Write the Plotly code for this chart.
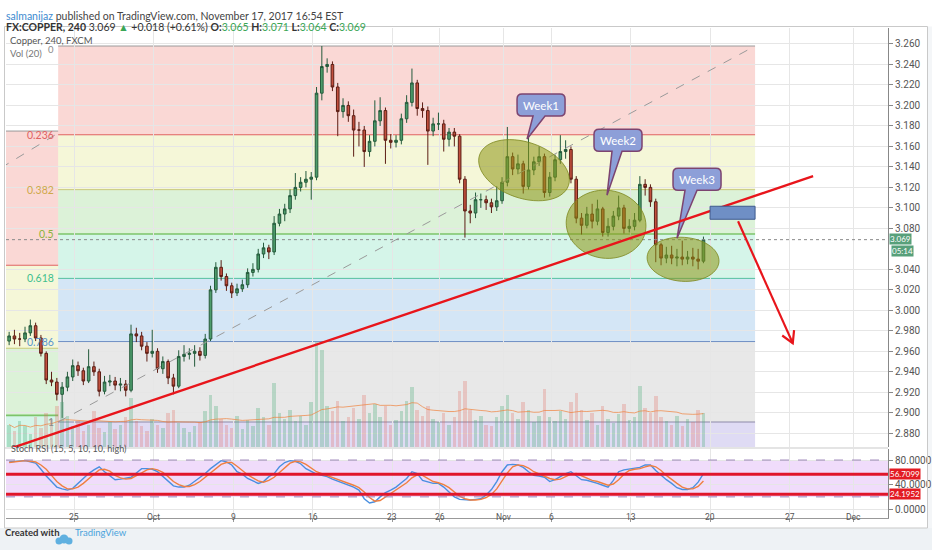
import numpy as np
import plotly.graph_objects as go

# FX:COPPER 4h candles, drawn 3 per trading day; day 0 = Mon Sep 25 2017, weekends skipped
close = [
    2.975, 2.972, 2.972, 2.978, 2.985, 2.973, 2.958, 2.932, 2.930, 2.918,
    2.925, 2.935, 2.946, 2.941, 2.931, 2.945, 2.940, 2.921, 2.930, 2.931,
    2.927, 2.928, 2.922, 2.977, 2.975, 2.965, 2.958, 2.960, 2.943, 2.950,
    2.934, 2.926, 2.955, 2.957, 2.958, 2.960, 2.956, 2.972, 3.020, 3.042,
    3.033, 3.024, 3.017, 3.021, 3.025, 3.037, 3.040, 3.055, 3.061, 3.057,
    3.085, 3.094, 3.099, 3.112, 3.120, 3.125, 3.128, 3.130, 3.212, 3.238,
    3.240, 3.218, 3.194, 3.200, 3.190, 3.176, 3.176, 3.155, 3.165, 3.185,
    3.195, 3.166, 3.164, 3.166, 3.187, 3.203, 3.222, 3.197, 3.195, 3.175,
    3.182, 3.182, 3.167, 3.174, 3.170, 3.128, 3.097, 3.095, 3.108, 3.108,
    3.105, 3.101, 3.107, 3.125, 3.150, 3.138, 3.143, 3.121, 3.137, 3.145,
    3.150, 3.115, 3.130, 3.147, 3.155, 3.157, 3.128, 3.090, 3.083, 3.094,
    3.087, 3.099, 3.076, 3.082, 3.092, 3.100, 3.080, 3.082, 3.088, 3.123,
    3.120, 3.106, 3.064, 3.051, 3.054, 3.051, 3.052, 3.050, 3.052, 3.050,
    3.048, 3.069]
high = [
    2.979, 2.981, 2.978, 2.984, 2.991, 2.988, 2.976, 2.960, 2.940, 2.934,
    2.930, 2.940, 2.952, 2.950, 2.944, 2.962, 2.950, 2.943, 2.936, 2.937,
    2.935, 2.934, 2.932, 2.986, 2.983, 2.979, 2.969, 2.981, 2.963, 2.955,
    2.952, 2.938, 2.961, 2.966, 2.963, 2.966, 2.964, 2.977, 3.024, 3.047,
    3.049, 3.036, 3.027, 3.026, 3.030, 3.041, 3.046, 3.060, 3.066, 3.064,
    3.092, 3.099, 3.104, 3.118, 3.134, 3.130, 3.136, 3.135, 3.218, 3.258,
    3.246, 3.243, 3.222, 3.207, 3.204, 3.196, 3.184, 3.180, 3.171, 3.205,
    3.208, 3.198, 3.172, 3.171, 3.192, 3.210, 3.236, 3.225, 3.203, 3.199,
    3.188, 3.193, 3.186, 3.178, 3.178, 3.172, 3.131, 3.103, 3.115, 3.114,
    3.112, 3.109, 3.121, 3.130, 3.179, 3.154, 3.152, 3.146, 3.172, 3.150,
    3.160, 3.153, 3.135, 3.152, 3.171, 3.166, 3.160, 3.131, 3.095, 3.101,
    3.104, 3.108, 3.101, 3.090, 3.097, 3.112, 3.103, 3.089, 3.095, 3.131,
    3.128, 3.123, 3.109, 3.066, 3.062, 3.063, 3.060, 3.068, 3.058, 3.061,
    3.060, 3.072]
low = [
    2.966, 2.967, 2.965, 2.969, 2.975, 2.970, 2.955, 2.928, 2.926, 2.912,
    2.895, 2.921, 2.931, 2.936, 2.927, 2.929, 2.936, 2.916, 2.918, 2.926,
    2.922, 2.921, 2.916, 2.920, 2.969, 2.961, 2.950, 2.954, 2.939, 2.938,
    2.928, 2.918, 2.924, 2.950, 2.952, 2.945, 2.951, 2.953, 2.970, 3.017,
    3.029, 3.019, 3.012, 3.014, 3.018, 3.022, 3.033, 3.037, 3.051, 3.050,
    3.054, 3.082, 3.087, 3.095, 3.108, 3.116, 3.120, 3.108, 3.127, 3.205,
    3.232, 3.214, 3.170, 3.188, 3.184, 3.150, 3.160, 3.140, 3.150, 3.160,
    3.180, 3.143, 3.158, 3.159, 3.162, 3.183, 3.199, 3.190, 3.188, 3.142,
    3.170, 3.176, 3.155, 3.160, 3.160, 3.124, 3.071, 3.085, 3.090, 3.100,
    3.098, 3.095, 3.097, 3.104, 3.121, 3.132, 3.133, 3.114, 3.118, 3.132,
    3.141, 3.110, 3.111, 3.126, 3.143, 3.148, 3.124, 3.085, 3.074, 3.080,
    3.080, 3.083, 3.072, 3.072, 3.078, 3.088, 3.075, 3.076, 3.078, 3.086,
    3.112, 3.101, 3.047, 3.044, 3.046, 3.045, 3.043, 3.044, 3.045, 3.043,
    3.040, 3.046]
first_open = 2.970

volume = [
    30, 22, 35, 28, 18, 40, 25, 45, 38, 55,
    60, 42, 28, 35, 22, 30, 48, 26, 20, 33,
    24, 30, 40, 65, 35, 28, 22, 38, 30, 26,
    45, 50, 32, 25, 20, 28, 34, 48, 70, 55,
    38, 30, 26, 42, 24, 36, 28, 52, 40, 30,
    85, 45, 38, 50, 35, 42, 30, 60, 140, 130,
    55, 48, 62, 35, 40, 52, 38, 70, 45, 58,
    40, 55, 30, 36, 48, 62, 80, 50, 42, 55,
    38, 34, 45, 30, 40, 75, 88, 50, 36, 42,
    30, 28, 40, 55, 70, 45, 38, 60, 50, 34,
    42, 78, 40, 35, 48, 38, 60, 72, 50, 36,
    45, 30, 55, 38, 32, 44, 58, 36, 40, 82,
    52, 46, 68, 40, 35, 30, 42, 28, 38, 34,
    50, 45]

stoch_k = [
    77, 78, 79, 79, 77, 75, 65, 54, 45, 36, 33, 31, 34, 42, 50, 58, 64, 69, 61, 55,
    48, 49, 50, 52, 59, 66, 66, 65, 61, 53, 45, 38, 36, 36, 39, 45, 52, 58, 66, 73,
    79, 77, 72, 61, 57, 50, 46, 42, 45, 53, 58, 69, 76, 79, 78, 74, 66, 61, 57, 55,
    53, 49, 46, 42, 39, 36, 31, 17, 10, 12, 20, 27, 31, 36, 43, 50, 61, 58, 47, 45,
    42, 42, 36, 28, 20, 16, 15, 15, 16, 17, 23, 32, 45, 61, 72, 73, 72, 68, 61, 55,
    54, 52, 45, 48, 53, 58, 61, 54, 48, 47, 45, 42, 39, 36, 47, 61, 64, 65, 66, 68,
    72, 72, 63, 55, 48, 42, 35, 32, 32, 35, 44, 58]
stoch_d = [
    76, 77, 78, 79, 78, 77, 72, 65, 55, 45, 38, 33, 33, 36, 42, 50, 57, 64, 65, 62,
    55, 51, 49, 50, 54, 59, 64, 66, 64, 60, 53, 45, 40, 37, 37, 40, 45, 52, 59, 66,
    73, 76, 76, 70, 63, 56, 51, 46, 44, 47, 52, 60, 68, 75, 78, 77, 73, 67, 61, 58,
    55, 52, 49, 46, 42, 39, 35, 28, 19, 13, 14, 20, 26, 31, 37, 43, 51, 56, 55, 50,
    45, 43, 40, 35, 28, 21, 17, 15, 15, 16, 19, 24, 33, 46, 59, 69, 72, 71, 67, 61,
    57, 54, 50, 48, 49, 53, 57, 58, 54, 50, 47, 45, 42, 39, 41, 48, 57, 63, 65, 66,
    69, 71, 69, 63, 55, 48, 42, 36, 33, 33, 37, 46]
stoch_levels = [56.7099, 24.1952]

tick_days = [0, 5, 10, 15, 20, 23, 27, 30, 35, 40, 45, 49]
tick_text = ['25', 'Oct', '9', '16', '23', '26', 'Nov', '6', '13', '20', '27', 'Dec']
# 3.060 sits under the last-price badge, so it is not labelled
price_ticks = [2.88, 2.90, 2.92, 2.94, 2.96, 2.98, 3.00, 3.02, 3.04, 3.08, 3.10,
               3.12, 3.14, 3.16, 3.18, 3.20, 3.22, 3.24, 3.26]

# fib retracement drawn from the Sep 22 low to the Oct 16 high
fib_ratios = [0, 0.236, 0.382, 0.5, 0.618, 0.786, 1, 1.618]
fib_high, fib_low = 3.258, 2.891
fib_days = [-1.0, 42.83]
# older fib, only its left edge is visible
old_fib_top, old_fib_span = 3.175, 0.555
old_fib_days = [-4.6, -1.0]

band_fill = ['rgba(236,92,80,0.24)', 'rgba(214,220,90,0.24)', 'rgba(110,200,90,0.24)',
             'rgba(80,212,165,0.24)', 'rgba(90,160,222,0.26)', 'rgba(150,150,150,0.22)',
             'rgba(120,105,210,0.24)']
level_col = ['#9a9a9a', '#e06262', '#c9c97a', '#7cc46a', '#55c0a0', '#6f8fc4', '#8d8aa8', '#8d8aa8']
label_col = ['#8a8a8a', '#e06262', '#cfa84a', '#8cb43c', '#3fbf8e', '#5b96cc', '#8a8a8a']

trend_line = [(-4.6, 2.862), (46.48, 3.131)]
target_box = [(40.0, 3.1016), (42.83, 3.0889)]
drop_arrow = [(41.76, 3.087), (45.2, 2.968)]
ellipses = [(28.3, 3.1368, 47, 28, 19), (33.46, 3.084, 40, 34, 8), (38.3, 3.0498, 36, 22, 4)]
bubbles = [('Week1', 29.37, 3.2004, -14, 34, -8, 4),
           ('Week2', 34.21, 3.1661, -11, 55, -6, 4),
           ('Week3', 39.18, 3.128, -20, 59, -12, 0)]
last_price = 3.069

W, H = 932, 550
PANE_L, PANE_R, PANE_T, PANE_B = 6, 888, 28, 447
ST_T, ST_B = 449, 518
FRAME_B = 528
X_RANGE = [-4.28, 51.19]
Y_RANGE = [2.8666, 3.2756]
ST_RANGE = [-14.4, 98]
DAY_PX = (PANE_R - PANE_L) / (X_RANGE[1] - X_RANGE[0])
PRICE_PX = (PANE_B - PANE_T) / (Y_RANGE[1] - Y_RANGE[0])


def px(x):
    return x / W


def py(y):
    return 1 - y / H


def off(d, p, dx, dy):
    return d + dx / DAY_PX, p - dy / PRICE_PX


def ellipse_path(cd, cp, a, b, tilt):
    th = np.radians(tilt)
    pts = []
    for t in np.linspace(0, 2 * np.pi, 61):
        dx = a * np.cos(t) * np.cos(th) - b * np.sin(t) * np.sin(th)
        dy = a * np.cos(t) * np.sin(th) + b * np.sin(t) * np.cos(th)
        pts.append(off(cd, cp, dx, dy))
    return 'M ' + ' L '.join('%.4f,%.5f' % q for q in pts) + ' Z'


def bubble_path(cd, cp, tip_dx, tip_dy, t0, t1, w=48, h=22, r=5):
    hw, hh = w / 2, h / 2
    cmds = [('M', [(-hw + r, -hh)]), ('L', [(hw - r, -hh)]), ('Q', [(hw, -hh), (hw, -hh + r)]),
            ('L', [(hw, hh - r)]), ('Q', [(hw, hh), (hw - r, hh)]), ('L', [(t1, hh)]),
            ('L', [(tip_dx, tip_dy)]), ('L', [(t0, hh)]), ('L', [(-hw + r, hh)]),
            ('Q', [(-hw, hh), (-hw, hh - r)]), ('L', [(-hw, -hh + r)]),
            ('Q', [(-hw, -hh), (-hw + r, -hh)])]
    s = ''
    for c, pts in cmds:
        s += c + ' ' + ' '.join('%.4f,%.5f' % off(cd, cp, dx, dy) for dx, dy in pts) + ' '
    return s + 'Z'


n = len(close)
cx = [X_RANGE[0] + 0.03 + (i + 0.5) / 3 for i in range(n)]
opens = [first_open] + close[:-1]
vol_col = ['rgba(70,170,115,0.30)' if c >= o else 'rgba(225,95,85,0.26)' for o, c in zip(opens, close)]
vol_ma = np.convolve(volume, np.ones(20) / 20, mode='full')[:n]
vol_ma[:19] = [np.mean(volume[:i + 1]) for i in range(19)]

fig = go.Figure()
fig.add_trace(go.Bar(x=cx, y=volume, marker_color=vol_col, marker_line_width=0, width=0.22,
                     xaxis='x', yaxis='y3', showlegend=False))
fig.add_trace(go.Scatter(x=cx, y=vol_ma, mode='lines', line=dict(color='rgba(240,130,60,0.7)', width=1),
                         xaxis='x', yaxis='y3', showlegend=False))
fig.add_trace(go.Candlestick(x=cx, open=opens, high=high, low=low, close=close,
                             increasing=dict(fillcolor='#4e9d6c', line=dict(color='#245a3b', width=1)),
                             decreasing=dict(fillcolor='#c2503e', line=dict(color='#5c1d14', width=1)),
                             whiskerwidth=0, xaxis='x', yaxis='y', showlegend=False))
fig.add_trace(go.Scatter(x=cx, y=stoch_k, mode='lines', line=dict(color='#4a8fe0', width=1.4),
                         xaxis='x2', yaxis='y2', showlegend=False))
fig.add_trace(go.Scatter(x=cx, y=stoch_d, mode='lines', line=dict(color='#ef7f40', width=1.4),
                         xaxis='x2', yaxis='y2', showlegend=False))

shapes = []
# main fib bands and levels
lv = [fib_high - r * (fib_high - fib_low) for r in fib_ratios]
for k in range(len(lv) - 1):
    shapes.append(dict(type='rect', xref='x', yref='y', x0=fib_days[0], x1=fib_days[1], y0=lv[k + 1], y1=lv[k],
                       fillcolor=band_fill[k], line_width=0, layer='below'))
for k in range(len(lv)):
    shapes.append(dict(type='line', xref='x', yref='y', x0=fib_days[0], x1=fib_days[1], y0=lv[k], y1=lv[k],
                       line=dict(color=level_col[k], width=1.6 if k == 3 else 1), layer='below'))
# older fib strip on the left
olv = [old_fib_top - r * old_fib_span for r in fib_ratios[:5]]
for k in range(len(olv) - 1):
    shapes.append(dict(type='rect', xref='x', yref='y', x0=old_fib_days[0], x1=old_fib_days[1], y0=olv[k + 1],
                       y1=olv[k], fillcolor=band_fill[k], line_width=0, layer='below'))
    shapes.append(dict(type='line', xref='x', yref='y', x0=old_fib_days[0], x1=old_fib_days[1], y0=olv[k], y1=olv[k],
                       line=dict(color=level_col[k], width=1.6 if k == 3 else 1), layer='below'))
shapes.append(dict(type='line', xref='x', yref='y', x0=old_fib_days[0], y0=3.139, x1=old_fib_days[1], y1=3.173,
                   line=dict(color='#9a9a9a', width=1, dash='dash')))
shapes.append(dict(type='line', xref='x', yref='y', x0=fib_days[0], y0=fib_low, x1=fib_days[1], y1=fib_high,
                   line=dict(color='#9a9a9a', width=1, dash='dash')))
shapes.append(dict(type='line', xref='x domain', yref='y', x0=0, x1=1, y0=last_price, y1=last_price,
                   line=dict(color='#8a8a8a', width=1, dash='dot')))

for cd, cp, a, b, tilt in ellipses:
    shapes.append(dict(type='path', xref='x', yref='y', path=ellipse_path(cd, cp, a, b, tilt),
                       fillcolor='rgba(140,150,20,0.55)', line=dict(color='rgba(125,135,30,0.8)', width=1)))
for txt, cd, cp, tdx, tdy, t0, t1 in bubbles:
    shapes.append(dict(type='path', xref='x', yref='y', path=bubble_path(cd, cp, tdx, tdy, t0, t1),
                       fillcolor='#8d9fd8', line=dict(color='#7c4470', width=1.5)))

shapes.append(dict(type='line', xref='x', yref='y', x0=trend_line[0][0], y0=trend_line[0][1],
                   x1=trend_line[1][0], y1=trend_line[1][1], line=dict(color='#e8151b', width=2.4)))
shapes.append(dict(type='rect', xref='x', yref='y', x0=target_box[0][0], y0=target_box[0][1],
                   x1=target_box[1][0], y1=target_box[1][1], fillcolor='#6f8fc5',
                   line=dict(color='#3f5a8e', width=1)))
(sd, sp), (ed, ep) = drop_arrow
shapes.append(dict(type='line', xref='x', yref='y', x0=sd, y0=sp, x1=ed, y1=ep,
                   line=dict(color='#e8151b', width=2.2)))
vx, vy = (ed - sd) * DAY_PX, -(ep - sp) * PRICE_PX
ln = np.hypot(vx, vy)
ux, uy = -vx / ln, -vy / ln
arms = []
for ang in (30, -30):
    a = np.radians(ang)
    arms.append(off(ed, ep, 13 * (ux * np.cos(a) - uy * np.sin(a)), 13 * (ux * np.sin(a) + uy * np.cos(a))))
shapes.append(dict(type='path', xref='x', yref='y',
                   path='M %.4f,%.5f L %.4f,%.5f L %.4f,%.5f' % (arms[0] + (ed, ep) + arms[1]),
                   line=dict(color='#e8151b', width=2.2)))

# stoch pane decorations
shapes.append(dict(type='rect', xref='x2 domain', yref='y2', x0=0, x1=1, y0=20, y1=80,
                   fillcolor='rgba(196,120,240,0.26)', line_width=0, layer='below'))
for v in (80, 20):
    shapes.append(dict(type='line', xref='x2 domain', yref='y2', x0=0, x1=1, y0=v, y1=v,
                       line=dict(color='#9c84b8', width=1, dash='dash')))
for v in stoch_levels:
    shapes.append(dict(type='line', xref='x2 domain', yref='y2', x0=0, x1=1, y0=v, y1=v,
                       line=dict(color='#e0162b', width=3)))

# frame, pane divider, footer
shapes.append(dict(type='rect', xref='paper', yref='paper', x0=0, x1=1, y0=0, y1=py(FRAME_B),
                   fillcolor='#eef2f5', line_width=0, layer='below'))
shapes.append(dict(type='rect', xref='paper', yref='paper', x0=px(928), x1=1, y0=py(FRAME_B), y1=py(26.5),
                   fillcolor='#f4f6f8', line_width=0, layer='below'))
shapes.append(dict(type='rect', xref='paper', yref='paper', x0=px(4.5), x1=px(927.5), y0=py(FRAME_B), y1=py(26.5),
                   line=dict(color='#c9c9c9', width=1)))
shapes.append(dict(type='line', xref='paper', yref='paper', x0=px(4.5), x1=px(PANE_R), y0=py(448), y1=py(448),
                   line=dict(color='#c9c9c9', width=1)))
# little cloud logo in the footer
for cxp, cyp, rr in ((59, 541, 3.5), (64, 539, 4.5), (69, 541, 3.5)):
    shapes.append(dict(type='circle', xref='paper', yref='paper', x0=px(cxp - rr), x1=px(cxp + rr),
                       y0=py(cyp + rr), y1=py(cyp - rr), fillcolor='#5fb0e0', line_width=0))

ann = []
for k, r in enumerate(fib_ratios[:7]):
    ann.append(dict(x=fib_days[0], y=lv[k], xref='x', yref='y', text=('%g' % r) if r else '0',
                    showarrow=False, xanchor='right', xshift=-3, yshift=-3 if r == 0 else 0, borderpad=0,
                    font=dict(size=9.5 if r == 0 else 10.5, color=label_col[k])))
for txt, cd, cp, tdx, tdy, t0, t1 in bubbles:
    ann.append(dict(x=cd, y=cp, xref='x', yref='y', text=txt, showarrow=False,
                    font=dict(size=11.5, color='white', family='Lato')))
for d, t in zip(tick_days, tick_text):
    ann.append(dict(x=d, y=py(523.5), xref='x2', yref='paper', text=t, showarrow=False,
                    font=dict(family='Roboto', size=8.5, color='#555')))
ann.append(dict(x=px(PANE_R), y=last_price, xref='paper', yref='y', text='3.069', showarrow=False,
                xanchor='left', xshift=1, yshift=1, bgcolor='#57a07a', borderpad=0, font=dict(size=8, color='white')))
ann.append(dict(x=px(PANE_R), y=last_price, xref='paper', yref='y', text='05:14', showarrow=False,
                xanchor='left', xshift=3, yshift=-11, bgcolor='#57a07a', borderpad=0,
                font=dict(size=8, color='white')))
for v in stoch_levels:
    ann.append(dict(x=px(PANE_R), y=v, xref='paper', yref='y2', text='%.4f' % v, showarrow=False,
                    xanchor='left', xshift=1, bgcolor='#e31b23', borderpad=0, font=dict(size=8, color='white')))
ann.append(dict(x=px(9), y=py(33.5), xref='paper', yref='paper', text='Copper, 240, FXCM', showarrow=False,
                xanchor='left', borderpad=0, font=dict(size=9.5, color='#555')))
ann.append(dict(x=px(9), y=py(46.5), xref='paper', yref='paper', text='Vol (20)', showarrow=False,
                xanchor='left', borderpad=0, font=dict(size=9.5, color='#777')))
ann.append(dict(x=px(9), y=py(456), xref='paper', yref='paper', text='Stoch RSI (15, 5, 10, 10, high)',
                showarrow=False, xanchor='left', font=dict(size=9, color='#555')))
ann.append(dict(x=px(4), y=py(8), xref='paper', yref='paper', showarrow=False, xanchor='left',
                text="<span style='color:#3d8ad0'>salmanijaz</span> published on TradingView.com, "
                     "November 17, 2017 16:54 EST", font=dict(size=10.5, color='#444')))
g = "<span style='color:#3aa655'>%s</span>"
ann.append(dict(x=px(4), y=py(19.5), xref='paper', yref='paper', showarrow=False, xanchor='left',
                text="<b>FX:COPPER, 240</b> 3.069 " + g % '▲' + " +0.018 (+0.61%) <b>O:</b>" + g % '3.065'
                     + " <b>H:</b>" + g % '3.071' + " <b>L:</b>" + g % '3.064' + " <b>C:</b>" + g % '3.069',
                font=dict(size=10.5, color='#333')))
ann.append(dict(x=px(3), y=py(540), xref='paper', yref='paper', showarrow=False, xanchor='left',
                text="<b>Created with</b>", font=dict(size=9.5, color='#333')))
ann.append(dict(x=px(73), y=py(540), xref='paper', yref='paper', showarrow=False, xanchor='left',
                text="TradingView", font=dict(size=9.5, color='#4aa3dc')))

axis_font = dict(family='Roboto', size=10, color='#555')
fig.update_layout(
    width=W, height=H, margin=dict(l=0, r=0, t=0, b=0, autoexpand=False),
    paper_bgcolor='white', plot_bgcolor='white', showlegend=False,
    font=dict(family='Lato'), bargap=0,
    xaxis=dict(domain=[px(PANE_L), px(PANE_R)], range=X_RANGE, anchor='y', rangeslider=dict(visible=False),
               tickvals=tick_days, showticklabels=False, ticks='', showgrid=True, gridcolor='#e6e6e6',
               zeroline=False, automargin=False),
    xaxis2=dict(domain=[px(PANE_L), px(PANE_R)], range=X_RANGE, anchor='y2', matches='x',
                tickvals=tick_days, showticklabels=False, ticks='outside', ticklen=3, tickcolor='#999',
                showgrid=True, gridcolor='#e6e6e6', zeroline=False, automargin=False,
                showline=True, linecolor='#999'),
    yaxis=dict(domain=[py(PANE_B), py(PANE_T)], range=Y_RANGE, side='right', anchor='x',
               tickvals=price_ticks, tickformat='.3f', ticks='outside', ticklen=4, tickcolor='#888',
               showgrid=True, gridcolor='#e6e6e6', zeroline=False, showline=True, linecolor='#888',
               tickfont=axis_font, automargin=False),
    yaxis2=dict(domain=[py(ST_B), py(ST_T)], range=ST_RANGE, side='right', anchor='x2',
                tickvals=[0, 40, 80], tickformat='.4f', ticks='outside', ticklen=4, tickcolor='#888',
                showgrid=True, gridcolor='#e6e6e6', zeroline=False, showline=True, linecolor='#888',
                tickfont=axis_font, automargin=False),
    yaxis3=dict(overlaying='y', range=[0, 560], visible=False, anchor='x', automargin=False),
    shapes=shapes, annotations=ann)

# the page body keeps its default 8px margin otherwise, which pushes the chart off the window
fig.write_html("out.html", config={'displayModeBar': False},
               post_script="document.body.style.margin = '0';")
